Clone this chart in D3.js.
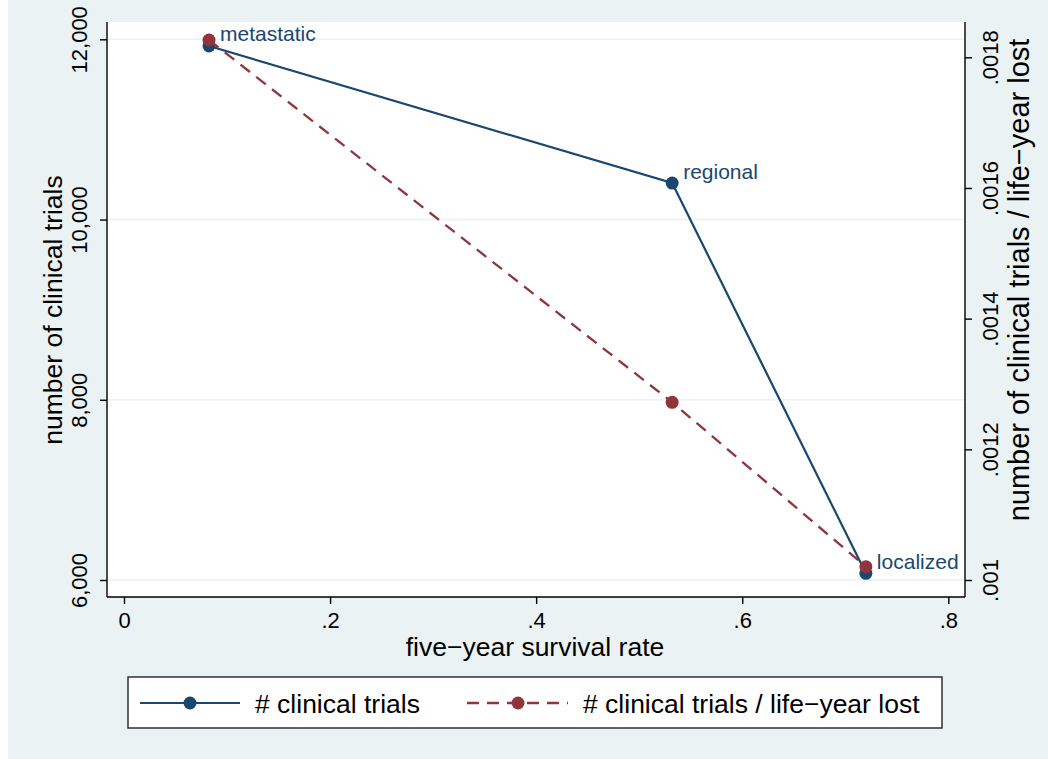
<!DOCTYPE html>
<html>
<head>
<meta charset="utf-8">
<script src="https://cdnjs.cloudflare.com/ajax/libs/d3/7.8.5/d3.min.js"></script>
<style>
  body { margin: 0; background: #fff; }
  text { font-family: "Liberation Sans", Arial, sans-serif; }
</style>
</head>
<body>
<script>
var width = 1048
var height = 759

// data
var stages = ["metastatic", "regional", "localized"]
var survival = [0.0825, 0.532, 0.720]
var trials = [11926, 10405, 6074]
var trialsPerLYL = [0.0018265, 0.001272, 0.0010204]

var xTicks = [0, 0.2, 0.4, 0.6, 0.8]
var yTicks = [6000, 8000, 10000, 12000]
var y2Ticks = [0.001, 0.0012, 0.0014, 0.0016, 0.0018]

var blue = "#1a476f"
var red = "#90353b"
var bg = "#eaf2f3"

var svg = d3.select("body")
    .append("svg")
    .attr("width", width)
    .attr("height", height)

// outer background
svg.append("rect")
    .attr("x", 8).attr("y", 0)
    .attr("width", width - 8).attr("height", height)
    .attr("fill", bg)

var plot = { left: 107, right: 965, top: 22, bottom: 597 }

svg.append("rect")
    .attr("x", plot.left).attr("y", plot.top)
    .attr("width", plot.right - plot.left)
    .attr("height", plot.bottom - plot.top)
    .attr("fill", "#fff")

var x = d3.scaleLinear().domain([0, 0.8]).range([124, 948.3])
var y = d3.scaleLinear().domain([6000, 12000]).range([580, 39.3])
var y2 = d3.scaleLinear().domain([0.001, 0.0018]).range([580, 57.3])

// gridlines
svg.append("g")
    .selectAll("line")
    .data(yTicks)
    .enter()
    .append("line")
    .attr("x1", plot.left).attr("x2", plot.right)
    .attr("y1", d => y(d)).attr("y2", d => y(d))
    .attr("stroke", bg)
    .attr("stroke-width", 1.6)

// axes
var xAxis = svg.append("g")
    .attr("transform", "translate(0," + plot.bottom + ")")
    .call(d3.axisBottom(x).tickValues(xTicks).tickSize(7).tickPadding(8)
        .tickFormat(d => d === 0 ? "0" : d3.format(".1f")(d).replace(/^0/, "")))

var yAxis = svg.append("g")
    .attr("transform", "translate(" + plot.left + ",0)")
    .call(d3.axisLeft(y).tickValues(yTicks).tickSize(7).tickFormat(d3.format(",")))

var y2Axis = svg.append("g")
    .attr("transform", "translate(" + plot.right + ",0)")
    .call(d3.axisRight(y2).tickValues(y2Ticks).tickSize(7)
        .tickFormat(d => d3.format(".4f")(d).replace(/^0/, "").replace(/0+$/, "")))

;[xAxis, yAxis, y2Axis].forEach(function(a) {
    a.select(".domain").attr("stroke", "#000").attr("stroke-width", 1.4)
    a.selectAll(".tick line").attr("stroke", "#000").attr("stroke-width", 1.4)
    a.selectAll(".tick text")
        .attr("fill", "#000")
        .style("font-size", "22px")
        .style("font-family", "'Liberation Sans', Arial, sans-serif")
})

// domain lines to span the full plot region
xAxis.select(".domain").attr("d", "M" + plot.left + ",0H" + plot.right)
yAxis.select(".domain").attr("d", "M0," + plot.top + "V" + plot.bottom)
y2Axis.select(".domain").attr("d", "M0," + plot.top + "V" + plot.bottom)

// rotate y tick labels
yAxis.selectAll(".tick text")
    .attr("x", null).attr("dy", null)
    .attr("text-anchor", "middle")
    .attr("transform", "translate(-20,0) rotate(-90)")
y2Axis.selectAll(".tick text")
    .attr("x", null).attr("dy", null)
    .attr("text-anchor", "middle")
    .attr("transform", "translate(33,0) rotate(-90)")

// axis titles
svg.append("text")
    .attr("x", 535).attr("y", 656)
    .attr("text-anchor", "middle")
    .style("font-size", "26.5px")
    .text("five\u2212year survival rate")

svg.append("text")
    .attr("transform", "translate(62,310) rotate(-90)")
    .attr("text-anchor", "middle")
    .style("font-size", "26.5px")
    .text("number of clinical trials")

svg.append("text")
    .attr("transform", "translate(1029,280) rotate(-90)")
    .attr("text-anchor", "middle")
    .style("font-size", "29px")
    .text("number of clinical trials / life\u2212year lost")

// lines
var blueLine = d3.line().x((d, i) => x(survival[i])).y(d => y(d))
var redLine = d3.line().x((d, i) => x(survival[i])).y(d => y2(d))

svg.append("path")
    .attr("d", blueLine(trials))
    .attr("fill", "none")
    .attr("stroke", blue)
    .attr("stroke-width", 2.2)

svg.selectAll(".bdot")
    .data(trials)
    .enter()
    .append("circle")
    .attr("cx", (d, i) => x(survival[i]))
    .attr("cy", d => y(d))
    .attr("r", 6.5)
    .attr("fill", blue)

svg.append("path")
    .attr("d", redLine(trialsPerLYL))
    .attr("fill", "none")
    .attr("stroke", red)
    .attr("stroke-width", 2.3)
    .attr("stroke-dasharray", "12,8")

svg.selectAll(".rdot")
    .data(trialsPerLYL)
    .enter()
    .append("circle")
    .attr("cx", (d, i) => x(survival[i]))
    .attr("cy", d => y2(d))
    .attr("r", 6.5)
    .attr("fill", red)

// marker labels
svg.selectAll(".mlab")
    .data(stages)
    .enter()
    .append("text")
    .attr("x", (d, i) => x(survival[i]) + 11)
    .attr("y", (d, i) => y(trials[i]) - 4.5)
    .attr("fill", blue)
    .style("font-size", "21px")
    .text(d => d)

// legend
svg.append("rect")
    .attr("x", 128).attr("y", 677)
    .attr("width", 814).attr("height", 51)
    .attr("fill", "#fff")
    .attr("stroke", "#222")
    .attr("stroke-width", 1.4)

var ly = 703
svg.append("line")
    .attr("x1", 140).attr("x2", 240).attr("y1", ly).attr("y2", ly)
    .attr("stroke", blue).attr("stroke-width", 2.2)
svg.append("circle").attr("cx", 190).attr("cy", ly).attr("r", 6.5).attr("fill", blue)
svg.append("text")
    .attr("x", 255).attr("y", ly + 9.5)
    .style("font-size", "26.5px")
    .text("# clinical trials")

svg.append("line")
    .attr("x1", 467).attr("x2", 568).attr("y1", ly).attr("y2", ly)
    .attr("stroke", red).attr("stroke-width", 2.3)
    .attr("stroke-dasharray", "12,8")
svg.append("circle").attr("cx", 518).attr("cy", ly).attr("r", 6.5).attr("fill", red)
svg.append("text")
    .attr("x", 583).attr("y", ly + 9.5)
    .style("font-size", "26.5px")
    .text("# clinical trials / life\u2212year lost")
</script>
</body>
</html>
